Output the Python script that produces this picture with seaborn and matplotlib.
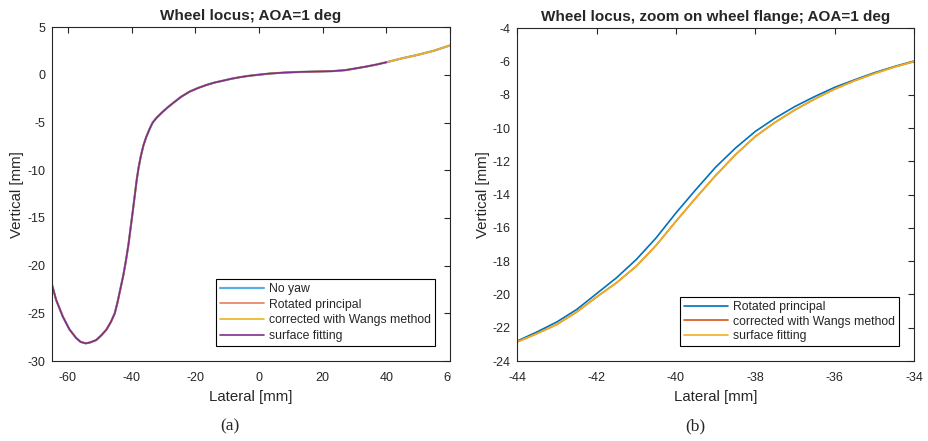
import numpy as np
import pandas as pd
import matplotlib
matplotlib.use("Agg")
import matplotlib.pyplot as plt
import seaborn as sns
from matplotlib.transforms import Bbox, TransformedBbox

# ---- (a) full wheel locus ----
lateral_a = [-65, -63.7, -61.6, -59.5, -57.4, -56, -54.4, -53, -51.1, -49.5, -47.9, -46.5,
             -45.3, -44.4, -43.5, -42.6, -41.8, -41.0, -40.3, -39.6, -39.0, -38.4, -37.8,
             -37.1, -36.3, -35.4, -34.4, -33.4, -32.2, -30.2, -28.5, -27.0, -24.5, -21.8,
             -19, -16.5, -14, -11.3, -8.7, -6.1, -3.4, -0.8, 3.4, 8, 13, 18, 23, 27,
             30.6, 34, 37, 40]
vertical_a = [-22.0, -23.6, -25.35, -26.7, -27.6, -28.0, -28.15, -28.05, -27.8, -27.3,
              -26.7, -25.9, -25.0, -23.8, -22.4, -21.0, -19.5, -17.8, -16.0, -14.2,
              -12.6, -11.0, -9.7, -8.5, -7.4, -6.5, -5.7, -5.0, -4.5, -3.85, -3.35,
              -2.95, -2.3, -1.75, -1.35, -1.05, -0.8, -0.6, -0.4, -0.24, -0.1, 0.0,
              0.15, 0.25, 0.32, 0.36, 0.4, 0.5, 0.7, 0.9, 1.1, 1.33]
lateral_a_ext = [45, 50, 55, 60]
vertical_a_ext = [1.75, 2.12, 2.55, 3.1]

# ---- (b) flange region ----
lateral_b = [-44, -43.5, -43, -42.5, -42, -41.5, -41, -40.5, -40, -39.5, -39,
             -38.5, -38, -37.5, -37, -36.5, -36, -35.5, -35, -34.5, -34]
rotated_b = [-22.8, -22.25, -21.65, -20.9, -19.95, -19.0, -17.9, -16.6, -15.1, -13.7,
             -12.35, -11.2, -10.2, -9.4, -8.7, -8.1, -7.55, -7.1, -6.67, -6.3, -5.97]
wang_b = [-22.85, -22.35, -21.8, -21.05, -20.15, -19.3, -18.3, -17.05, -15.6, -14.2,
          -12.85, -11.6, -10.5, -9.65, -8.9, -8.25, -7.65, -7.15, -6.72, -6.33, -6.0]
surface_b = [-22.85, -22.35, -21.8, -21.05, -20.15, -19.3, -18.3, -17.05, -15.6, -14.2,
             -12.85, -11.6, -10.5, -9.65, -8.9, -8.25, -7.65, -7.15, -6.72, -6.33, -6.0]

labels_a = ["No yaw", "Rotated principal", "corrected with Wangs method", "surface fitting"]
labels_b = ["Rotated principal", "corrected with Wangs method", "surface fitting"]

sns.set_style("white")
plt.rcParams["font.family"] = ["Liberation Sans", "DejaVu Sans"]
plt.rcParams["axes.unicode_minus"] = False
dark = "#262626"

fig = plt.figure(figsize=(9.29, 4.41), dpi=100)
ax1 = fig.add_axes([0.056, 0.1814, 0.4284, 0.7567])
ax2 = fig.add_axes([0.5568, 0.1814, 0.427, 0.7544])

full_x = lateral_a + lateral_a_ext
full_y = vertical_a + vertical_a_ext
specs_a = [
    (full_x, full_y, "#5AAFE6", 1.6, labels_a[0]),
    (full_x, full_y, "#E2805C", 1.2, labels_a[1]),
    (full_x, full_y, "#EDB120", 1.2, labels_a[2]),
    (lateral_a, vertical_a, "#7E2F8E", 1.2, labels_a[3]),
]
for xs, ys, c, lw, lab in specs_a:
    sns.lineplot(x=xs, y=ys, ax=ax1, color=c, linewidth=lw, label=lab, sort=False,
                 estimator=None)

specs_b = [
    (rotated_b, "#0072BD", labels_b[0]),
    (wang_b, "#D95319", labels_b[1]),
    (surface_b, "#EDB120", labels_b[2]),
]
for ys, c, lab in specs_b:
    sns.lineplot(x=lateral_b, y=ys, ax=ax2, color=c, linewidth=1.2, label=lab, sort=False,
                 estimator=None)

ax1.set_xlim(-65, 60)
ax1.set_ylim(-30, 5)
ax1.set_xticks([-60, -40, -20, 0, 20, 40, 60])
ax1.set_yticks([5, 0, -5, -10, -15, -20, -25, -30])
ax1.set_title("Wheel locus; AOA=1 deg", fontsize=11, fontweight="bold", pad=5)

ax2.set_xlim(-44, -34)
ax2.set_ylim(-24, -4)
ax2.set_xticks([-44, -42, -40, -38, -36, -34])
ax2.set_yticks(list(range(-24, -3, 2)))
ax2.set_title("Wheel locus, zoom on wheel flange; AOA=1 deg", fontsize=11,
              fontweight="bold", pad=5)

for ax in (ax1, ax2):
    ax.set_xlabel("Lateral [mm]", fontsize=10.8, color=dark, labelpad=4)
    ax.set_ylabel("Vertical [mm]", fontsize=10.8, color=dark, labelpad=2)
    ax.tick_params(direction="in", length=4, width=0.8, top=True, right=True,
                   labelsize=9, colors=dark)
    ax.tick_params(axis="x", pad=8)
    ax.tick_params(axis="y", pad=5)
    for s in ax.spines.values():
        s.set_color(dark)
        s.set_linewidth(0.8)
    ax.set_facecolor("white")

leg1 = ax1.legend(loc="lower right", fontsize=8.8, frameon=True, fancybox=False,
                  edgecolor="black", framealpha=1, borderpad=0.35, labelspacing=0.3,
                  handlelength=3.6, handletextpad=0.4, borderaxespad=1.2)
leg1.get_frame().set_linewidth(0.8)
leg2 = ax2.legend(loc="lower right", fontsize=8.8, frameon=True, fancybox=False,
                  edgecolor="black", framealpha=1, borderpad=0.35, labelspacing=0.2,
                  handlelength=3.6, handletextpad=0.4, borderaxespad=1.2)
leg2.get_frame().set_linewidth(0.8)

# last x tick label of (a) is cut at the panel edge
lab60 = ax1.xaxis.get_major_ticks()[-1].label1
lab60.set_clip_box(TransformedBbox(Bbox([[0, 0], [451 / 929, 1]]), fig.transFigure))
lab60.set_clip_on(True)

fig.text(230 / 929, 1 - 426 / 441, "(a)", family=["Liberation Serif", "DejaVu Serif"],
         fontsize=12.5, ha="center", va="center")
fig.text(695 / 929, 1 - 426 / 441, "(b)", family=["Liberation Serif", "DejaVu Serif"],
         fontsize=12.5, ha="center", va="center")

fig.savefig("out.png", dpi=100, facecolor="white")
